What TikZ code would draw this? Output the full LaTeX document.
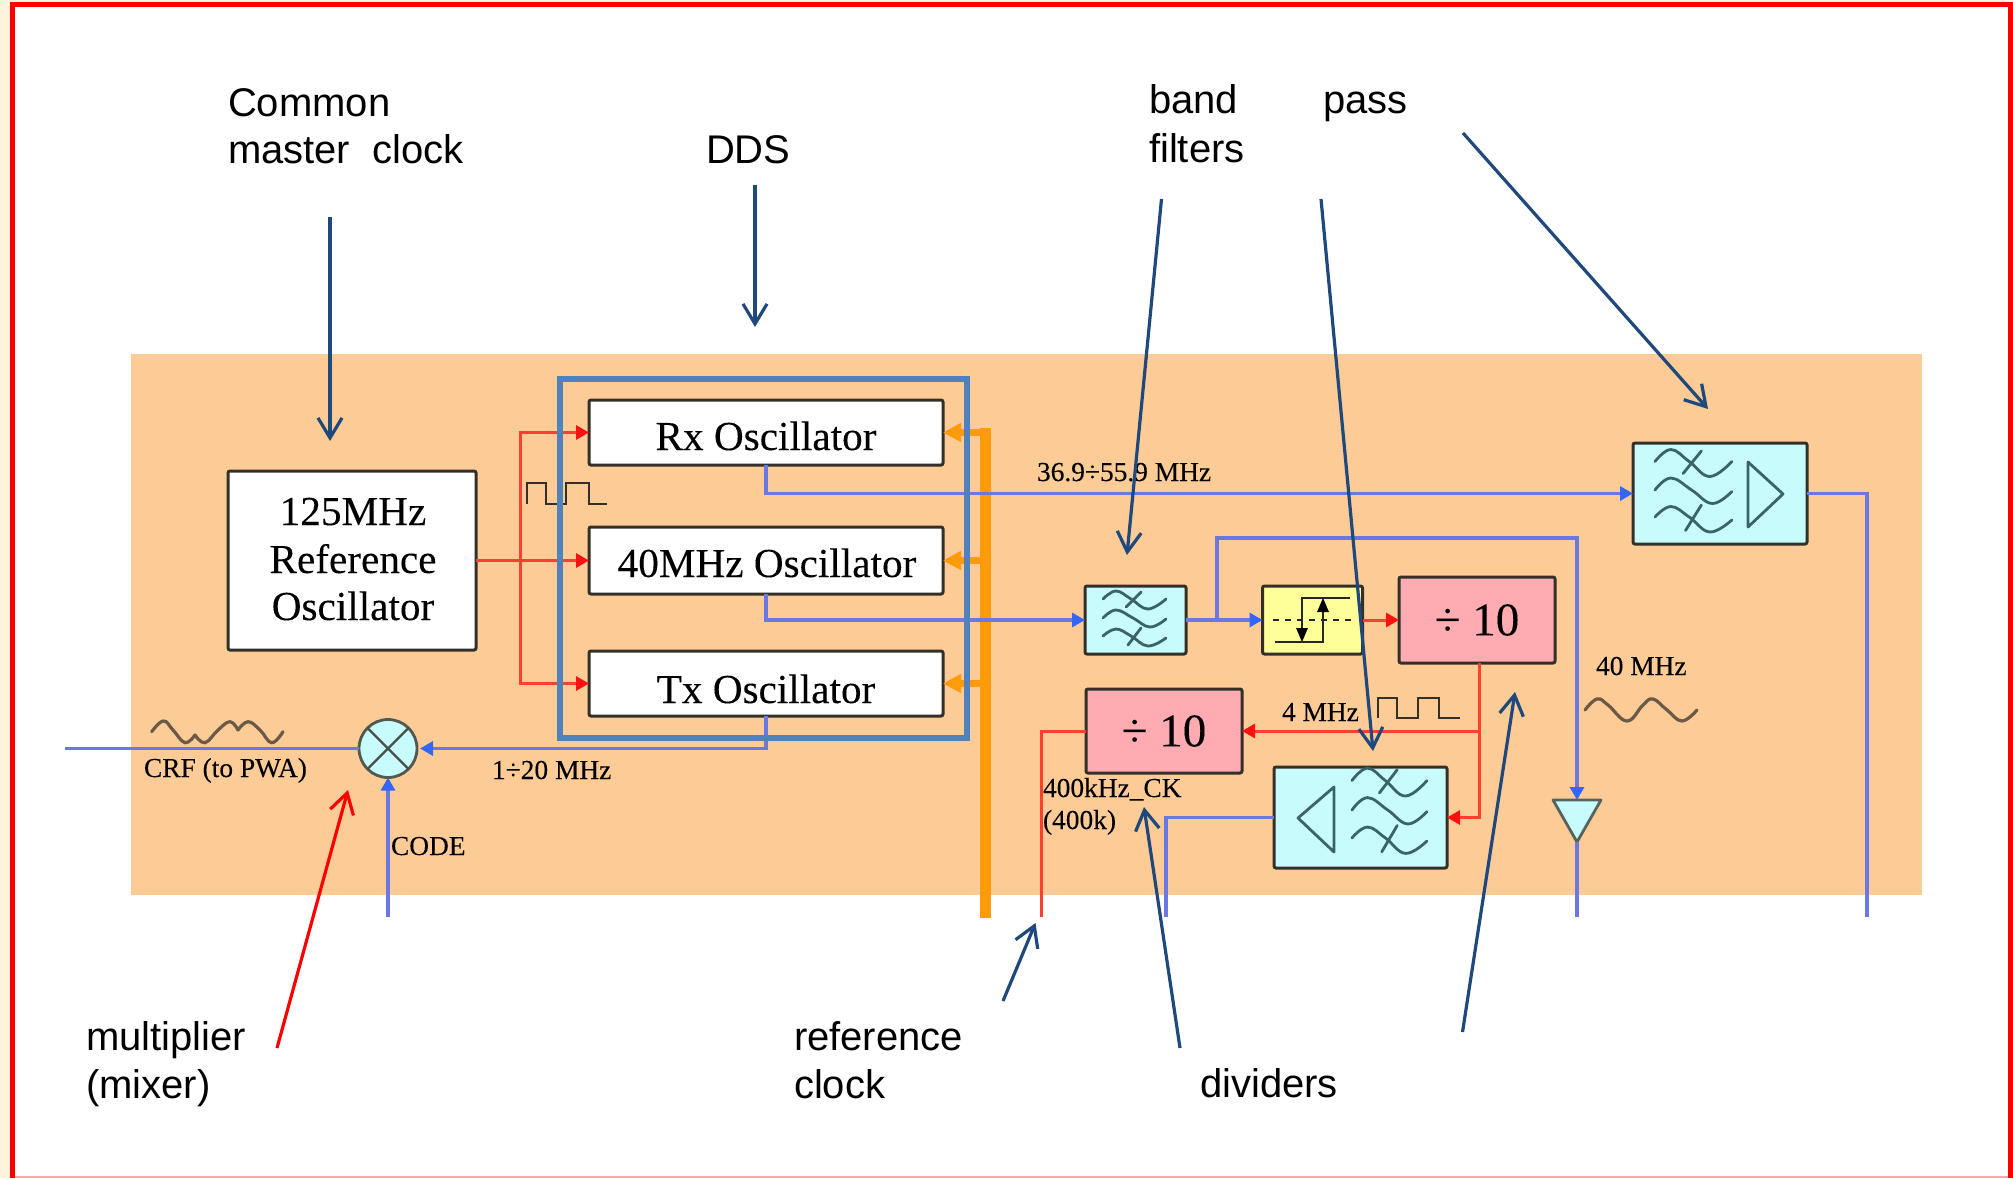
\documentclass[tikz,border=0pt]{standalone}
\usepackage{fontspec}
\setmainfont[FakeBold=0.15]{Liberation Serif}
\newfontfamily\arialfont{Liberation Sans}
\usetikzlibrary{arrows.meta}
\definecolor{panelc}{HTML}{FDCB96}
\definecolor{bluel}{HTML}{6A78E4}
\definecolor{bluet}{HTML}{3366FF}
\definecolor{redl}{HTML}{FF4030}
\definecolor{redt}{HTML}{FF1010}
\definecolor{orangel}{HTML}{FF9A0A}
\definecolor{ddsc}{HTML}{4F81BD}
\definecolor{pointerc}{HTML}{1F497D}
\definecolor{cyanf}{HTML}{C8FBFC}
\definecolor{pinkf}{HTML}{FFABB2}
\definecolor{yellowf}{HTML}{FFFF99}
\definecolor{edgec}{HTML}{333029}
\definecolor{wavec}{HTML}{3A6468}
\definecolor{sinec}{HTML}{6B5A45}
\definecolor{creamc}{HTML}{FFF3DC}
\tikzset{
  x=0.5pt,y=-0.5pt,
  box/.style={draw=edgec,line width=1.5pt,rounded corners=1pt,inner sep=0pt,outer sep=0pt,align=center,font=\fontsize{20.6}{23.7}\selectfont},
  whitebox/.style={box,fill=white},
  cyanbox/.style={box,fill=cyanf},
  pinkbox/.style={box,fill=pinkf,font=\fontsize{23.5}{27}\selectfont},
  yellowbox/.style={box,fill=yellowf},
  bluewire/.style={draw=bluel,line width=1.6pt,line join=miter},
  bluearrow/.style={bluewire,-{Triangle[length=6.5pt,width=7pt,color=bluet]}},
  redwire/.style={draw=redl,line width=1.5pt},
  redarrow/.style={redwire,-{Triangle[length=6.5pt,width=7pt,color=redt]}},
  orangearrow/.style={draw=orangel,line width=3.5pt,-{Triangle[length=9pt,width=9pt,color=orangel]}},
  pointer/.style={draw=pointerc,line width=1.6pt,-{Straight Barb[length=10pt,width=12pt]}},
  redpointer/.style={draw=red,line width=1.6pt,-{Straight Barb[length=10pt,width=12pt]}},
  callout/.style={inner sep=0pt,outer sep=0pt,anchor=base west,font=\arialfont\fontsize{20}{23}\selectfont},
  small/.style={inner sep=0pt,outer sep=0pt,anchor=base west,text=black,font=\fontsize{13.7}{16}\selectfont},
  boxtext/.style={inner sep=0pt,outer sep=0pt,anchor=base,font=\fontsize{20.6}{23.7}\selectfont},
  waveline/.style={draw=wavec,line width=1.4pt,line cap=round},
  sineline/.style={draw=sinec,line width=1.6pt,line cap=round},
  pulseline/.style={draw=edgec,line width=1.4pt},
  iconline/.style={draw=black!85,line width=1.3pt},
  wavefilter/.pic={
    \draw[waveline] plot[smooth,tension=.7] coordinates {(0,-19)(13,-27)(28,-19)(45,-9)(63,-19)};
    \draw[waveline] (38,-26) -- (23,-11);
    \draw[waveline] plot[smooth,tension=.7] coordinates {(0,0)(13,-8)(30,0)(47,9)(63,1)};
    \draw[waveline] plot[smooth,tension=.7] coordinates {(0,18)(13,11)(28,18)(45,28)(63,20)};
    \draw[waveline] (38,10) -- (25,27);
  }
}
\begin{document}
\begin{tikzpicture}
\useasboundingbox (0,0) rectangle (2013,1178);
% page
\fill[creamc] (0,0) rectangle (2013,1178);
\fill[white] (12,5) rectangle (2010,1177);
\draw[draw=red!35!white,line width=1pt] (12,1177) -- (2013,1177);
\draw[red,line width=2.5pt] (12,1178) -- (12,4.5) -- (2010.5,4.5) -- (2010.5,1178);
% panel
\fill[panelc] (131,354) rectangle (1922,895);

% blocks
\node[whitebox,minimum width=124pt,minimum height=89.5pt] (refosc) at (352,560.5) {};
\node[boxtext] (reft1) at (353,525) {125MHz};
\node[boxtext] (reft2) at (353,573) {Reference};
\node[boxtext] (reft3) at (353,620) {Oscillator};

\node[whitebox,minimum width=177pt,minimum height=32.5pt] (oscrx) at (766,432.5) {};
\node[whitebox,minimum width=177pt,minimum height=33.5pt] (oscmid) at (766,560.5) {};
\node[whitebox,minimum width=177pt,minimum height=32.5pt] (osctx) at (766,683.5) {};
\node[boxtext] (rxt) at (766,450) {Rx Oscillator};
\node[boxtext] (midt) at (767,577) {40MHz Oscillator};
\node[boxtext] (txt) at (766,703) {Tx Oscillator};

\node[cyanbox,minimum width=87pt,minimum height=50.5pt] (amp) at (1720,493.5) {};
\node[cyanbox,minimum width=50.5pt,minimum height=34pt] (filt1) at (1135.5,620) {};
\node[yellowbox,minimum width=50pt,minimum height=34pt] (hyst) at (1312.5,620) {};
\node[pinkbox,minimum width=78pt,minimum height=43pt] (div1) at (1477,620) {÷ 10};
\node[pinkbox,minimum width=78pt,minimum height=42pt] (div2) at (1164,731) {÷ 10};
\node[cyanbox,minimum width=86.5pt,minimum height=50.5pt] (filt2) at (1360.5,817.5) {};
\node[draw=edgec!80!cyanf,fill=cyanf,line width=1.4pt,circle,minimum size=29pt,inner sep=0pt,outer sep=0pt] (mixer) at (388,748.5) {};
\draw[draw=edgec!85!cyanf,line width=1.2pt] (mixer.north west) -- (mixer.south east) (mixer.north east) -- (mixer.south west);

% icons
\pic at (1103,618) {wavefilter};
\pic[xscale=1.22,yscale=1.5] at (1655,490) {wavefilter};
\pic[xscale=1.19,yscale=1.55] at (1352,810) {wavefilter};
\draw[waveline,line join=round] (1748,462) -- (1783,494) -- (1748,527) -- cycle;
\draw[waveline,line join=round] (1334,787) -- (1298,818) -- (1334,852) -- cycle;
\draw[iconline,dash pattern=on 3pt off 3pt] (1273,620) -- (1352,620);
\draw[iconline] (1350,598) -- (1302,598) -- (1302,640);
\draw[iconline] (1275,642) -- (1323,642) -- (1323,601);
\fill[black] (1323,598) -- (1317,612) -- (1329,612) -- cycle;
\fill[black] (1302,642) -- (1296,628) -- (1308,628) -- cycle;

% buffer triangle
\coordinate (buftop) at (1577,800);
\coordinate (bufapex) at (1577,842);
\draw[draw=edgec!75!cyanf,fill=cyanf,line width=1.4pt,line join=round] (1553,800) -- (1601,800) -- (bufapex) -- cycle;

% wire ends and junctions
\coordinate (rj) at (520,560.5);
\coordinate (busTop) at (985.5,428);
\coordinate (busBot) at (985.5,918);
\coordinate (jrx) at (985.5,432.5);
\coordinate (jmid) at (985.5,560.5);
\coordinate (jtx) at (985.5,683.5);
\coordinate (outamp) at (1867,917);
\coordinate (outbuf) at (1577,917);
\coordinate (outref) at (1041,917);
\coordinate (outf2) at (1166,917);
\coordinate (incode) at (388,917);
\coordinate (outcrf) at (65,748.5);
\coordinate (jf) at (1217,620);
\coordinate (jfup) at (1217,538);
\coordinate (jd) at (1479,731);
\coordinate (jdtop) at (1479,663);

% red wires
\draw[redwire] (refosc.east) -- (rj);
\draw[redarrow] (rj) |- (oscrx.west);
\draw[redarrow] (rj) |- (osctx.west);
\draw[redarrow] (rj) -- (oscmid.west);
\draw[redarrow] (hyst.east) -- (div1.west);
\draw[redarrow] (jdtop) |- (filt2.east);
\draw[redarrow] (jd) -- (div2.east);
\draw[redwire] (div2.west) -| (outref);

% orange bus
\draw[draw=orangel,line width=5.3pt] (busTop) -- (busBot);
\draw[orangearrow] (jrx) -- (oscrx.east);
\draw[orangearrow] (jmid) -- (oscmid.east);
\draw[orangearrow] (jtx) -- (osctx.east);

% blue wires
\draw[bluearrow] (oscrx.south) |- (amp.west);
\draw[bluewire] (amp.east) -| (outamp);
\draw[bluearrow] (oscmid.south) |- (filt1.west);
\draw[bluearrow] (filt1.east) -- (hyst.west);
\draw[bluearrow] (jf) -- (jfup) -| (buftop);
\draw[bluewire] (bufapex) -- (outbuf);
\draw[bluewire] (filt2.west) -| (outf2);
\draw[bluearrow,shorten >=1.5pt] (osctx.south) |- (mixer.east);
\draw[bluewire] (mixer.west) -- (outcrf);
\draw[bluearrow] (incode) -- (mixer.south);

% waveforms
\draw[pulseline] (527,504) -- (527,483) -- (546,483) -- (546,504) -- (566,504) -- (566,483) -- (589,483) -- (589,504) -- (607,504);
\draw[pulseline] (1378,718) -- (1378,698) -- (1397,698) -- (1397,718) -- (1418,718) -- (1418,698) -- (1439,698) -- (1439,718) -- (1460,718);
\draw[sineline] plot[smooth,tension=.7] coordinates {(151.7,731.7)(163.3,721)(173,730)(185,742.7)(195,735)};
\draw[sineline] plot[smooth,tension=.7] coordinates {(195,735)(205,742.7)(218,730)(230,721.7)(238,730)};
\draw[sineline] plot[smooth,tension=.7] coordinates {(238,730)(248,721.7)(260,730)(271.7,742.7)(283,731.7)};
\draw[sineline] plot[smooth,tension=.7] coordinates {(1585,710)(1597,699)(1608,705)(1627,721)(1643,705)(1653,699)(1667,710)(1682,721)(1697,710)};

% small labels
\node[small] (lrx) at (1037,481) {36.9÷55.9 MHz};
\node[small] (l4m) at (1282,721) {4 MHz};
\node[small] (l400a) at (1043,797) {400kHz\_CK};
\node[small] (l400b) at (1043,829) {(400k)};
\node[small] (l40m) at (1596,675) {40 MHz};
\node[small] (lcrf) at (144,777) {CRF (to PWA)};
\node[small] (ltx) at (492,779) {1÷20 MHz};
\node[small] (lcode) at (391,855) {CODE};

% DDS frame
\node[draw=ddsc,line width=2.75pt,minimum width=203.5pt,minimum height=179.5pt,inner sep=0pt,outer sep=0pt] (ddsbox) at (763.5,558.5) {};

% callouts
\node[callout] (tcommon) at (228,116) {Common};
\node[callout] (tmaster) at (228,163) {master\ \ clock};
\node[callout] (tdds) at (706,163) {DDS};
\node[callout] (tband) at (1149,113) {band};
\node[callout] (tfilters) at (1149,162) {filters};
\node[callout] (tpass) at (1323,113) {pass};
\node[callout] (tmult) at (86,1050) {multiplier};
\node[callout] (tmixer) at (86,1098) {(mixer)};
\node[callout] (tref) at (794,1050) {reference};
\node[callout] (tclock) at (794,1098) {clock};
\node[callout] (tdiv) at (1200,1097) {dividers};

% pointers
\coordinate (p1a) at (330,217);   \coordinate (p1b) at (330,441);
\coordinate (p2a) at (755,185);   \coordinate (p2b) at (755,327);
\coordinate (p3a) at (1161.5,199);\coordinate (p3b) at (1127,555);
\coordinate (p4a) at (1321,199);  \coordinate (p4b) at (1373,751);
\coordinate (p5a) at (1463,133);  \coordinate (p5b) at (1708,409);
\coordinate (p6a) at (1180,1048); \coordinate (p6b) at (1144,807);
\coordinate (p7a) at (1462.5,1032);\coordinate (p7b) at (1515,692);
\coordinate (p8a) at (1003,1001); \coordinate (p8b) at (1035.5,923);
\coordinate (p9a) at (277,1048);  \coordinate (p9b) at (348,790);
\draw[pointer] (p1a) -- (p1b);
\draw[pointer] (p2a) -- (p2b);
\draw[pointer] (p3a) -- (p3b);
\draw[pointer] (p4a) -- (p4b);
\draw[pointer] (p5a) -- (p5b);
\draw[pointer] (p6a) -- (p6b);
\draw[pointer] (p7a) -- (p7b);
\draw[pointer] (p8a) -- (p8b);
\draw[redpointer] (p9a) -- (p9b);
\end{tikzpicture}
\end{document}
